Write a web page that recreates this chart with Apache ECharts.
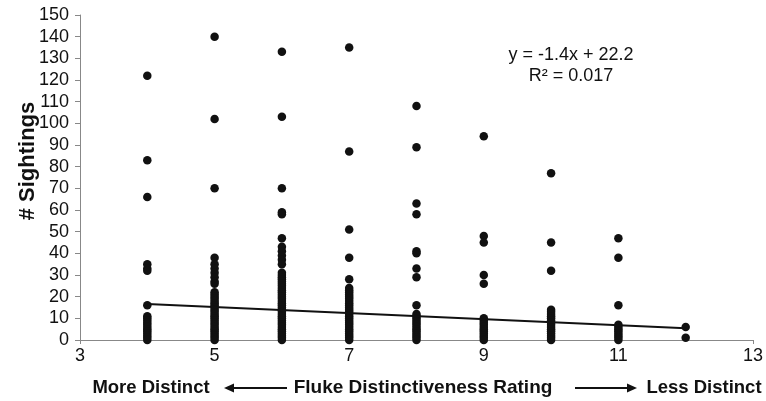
<!DOCTYPE html>
<html><head><meta charset="utf-8">
<script src="https://cdn.jsdelivr.net/npm/echarts@6/dist/echarts.min.js"></script>
<style>html,body{margin:0;padding:0;background:#fff}#c{width:766px;height:401px}</style>
</head><body><div id="c"></div>
<script>
// Sightings per fluke distinctiveness rating
const rating4  = [122, 83, 66, 35, 33, 32, 16, 11, 10, 9, 8, 7, 6, 5, 4, 3, 2, 1, 0];
const rating5  = [140, 102, 70, 38, 35, 33, 31, 29, 27, 26, 22, 21, 20, 19, 18, 17, 16, 15, 14, 13, 12, 11, 10, 9, 8, 7, 6, 5, 4, 3, 2, 1, 0];
const rating6  = [133, 103, 70, 59, 58, 47, 43, 41, 39, 37, 35, 31, 30, 29, 28, 27, 26, 25, 24, 23, 22, 21, 20, 19, 18, 17, 16, 15, 14, 13, 12, 11, 10, 9, 8, 7, 6, 5, 4, 3, 2, 1, 0];
const rating7  = [135, 87, 51, 38, 28, 24, 23, 22, 21, 20, 19, 18, 17, 16, 15, 14, 13, 12, 11, 10, 9, 8, 7, 6, 5, 4, 3, 2, 1, 0];
const rating8  = [108, 89, 63, 58, 41, 40, 33, 29, 16, 12, 11, 10, 9, 8, 7, 6, 5, 4, 3, 2, 1, 0];
const rating9  = [94, 48, 45, 30, 26, 10, 9, 8, 7, 6, 5, 4, 3, 2, 1, 0];
const rating10 = [77, 45, 32, 14, 13, 12, 11, 10, 9, 8, 7, 6, 5, 4, 3, 2, 1, 0];
const rating11 = [47, 38, 16, 7, 6, 5, 4, 3, 2, 1, 0];
const rating12 = [6, 1];
const ratings = [4, 5, 6, 7, 8, 9, 10, 11, 12];
const columns = [rating4, rating5, rating6, rating7, rating8, rating9, rating10, rating11, rating12];
// Linear trend line endpoints (y = -1.4x + 22.2)
const trendX = [4, 12];
const trendY = [16.6, 5.4];
const equationText = 'y = -1.4x + 22.2';
const r2Text = 'R² = 0.017';

const points = [];
ratings.forEach((r, i) => columns[i].forEach(v => points.push([r, v])));
const trend = trendX.map((x, i) => [x, trendY[i]]);

const chart = echarts.init(document.getElementById('c'), null, {renderer: 'canvas'});
const font = 'Liberation Sans, Arial, sans-serif';
chart.setOption({
  animation: false,
  backgroundColor: '#fff',
  grid: {left: 80, right: 10, top: 15, bottom: 61},
  xAxis: {
    type: 'value', min: 3, max: 13, interval: 2,
    axisLine: {lineStyle: {color: '#888', width: 1}},
    axisTick: {show: true, length: 4, lineStyle: {color: '#888'}},
    splitLine: {show: false},
    axisLabel: {color: '#111', fontSize: 18, fontFamily: font, margin: 7}
  },
  yAxis: {
    type: 'value', min: 0, max: 150, interval: 10,
    axisLine: {show: true, lineStyle: {color: '#888', width: 1}},
    axisTick: {show: true, length: 5, lineStyle: {color: '#888'}},
    splitLine: {show: false},
    axisLabel: {color: '#111', fontSize: 18, fontFamily: font, margin: 11}
  },
  series: [
    {type: 'scatter', data: points, symbolSize: 8.5, itemStyle: {color: '#111', opacity: 1}, z: 3},
    {type: 'line', data: trend, symbol: 'none', lineStyle: {color: '#111', width: 2}, z: 4}
  ],
  graphic: [
    {type: 'text', x: 28, y: 161, rotation: Math.PI / 2, style: {text: '# Sightings', font: 'bold 22px ' + font, fill: '#111', textAlign: 'center', textVerticalAlign: 'middle'}},
    {type: 'text', x: 571, y: 55, style: {text: equationText, font: '18px ' + font, fill: '#111', textAlign: 'center', textVerticalAlign: 'middle'}},
    {type: 'text', x: 571, y: 76, style: {text: r2Text, font: '18px ' + font, fill: '#111', textAlign: 'center', textVerticalAlign: 'middle'}},
    {type: 'text', x: 151, y: 388, style: {text: 'More Distinct', font: 'bold 18.5px ' + font, fill: '#111', textAlign: 'center', textVerticalAlign: 'middle'}},
    {type: 'text', x: 423, y: 388, style: {text: 'Fluke Distinctiveness Rating', font: 'bold 19px ' + font, fill: '#111', textAlign: 'center', textVerticalAlign: 'middle'}},
    {type: 'text', x: 704, y: 388, style: {text: 'Less Distinct', font: 'bold 18.5px ' + font, fill: '#111', textAlign: 'center', textVerticalAlign: 'middle'}},
    {type: 'line', shape: {x1: 232, y1: 388, x2: 287, y2: 388}, style: {stroke: '#111', lineWidth: 2}},
    {type: 'polygon', shape: {points: [[224, 388], [234, 383.5], [234, 392.5]]}, style: {fill: '#111'}},
    {type: 'line', shape: {x1: 575, y1: 388, x2: 628, y2: 388}, style: {stroke: '#111', lineWidth: 2}},
    {type: 'polygon', shape: {points: [[637, 388], [627, 383.5], [627, 392.5]]}, style: {fill: '#111'}}
  ]
});
</script></body></html>
